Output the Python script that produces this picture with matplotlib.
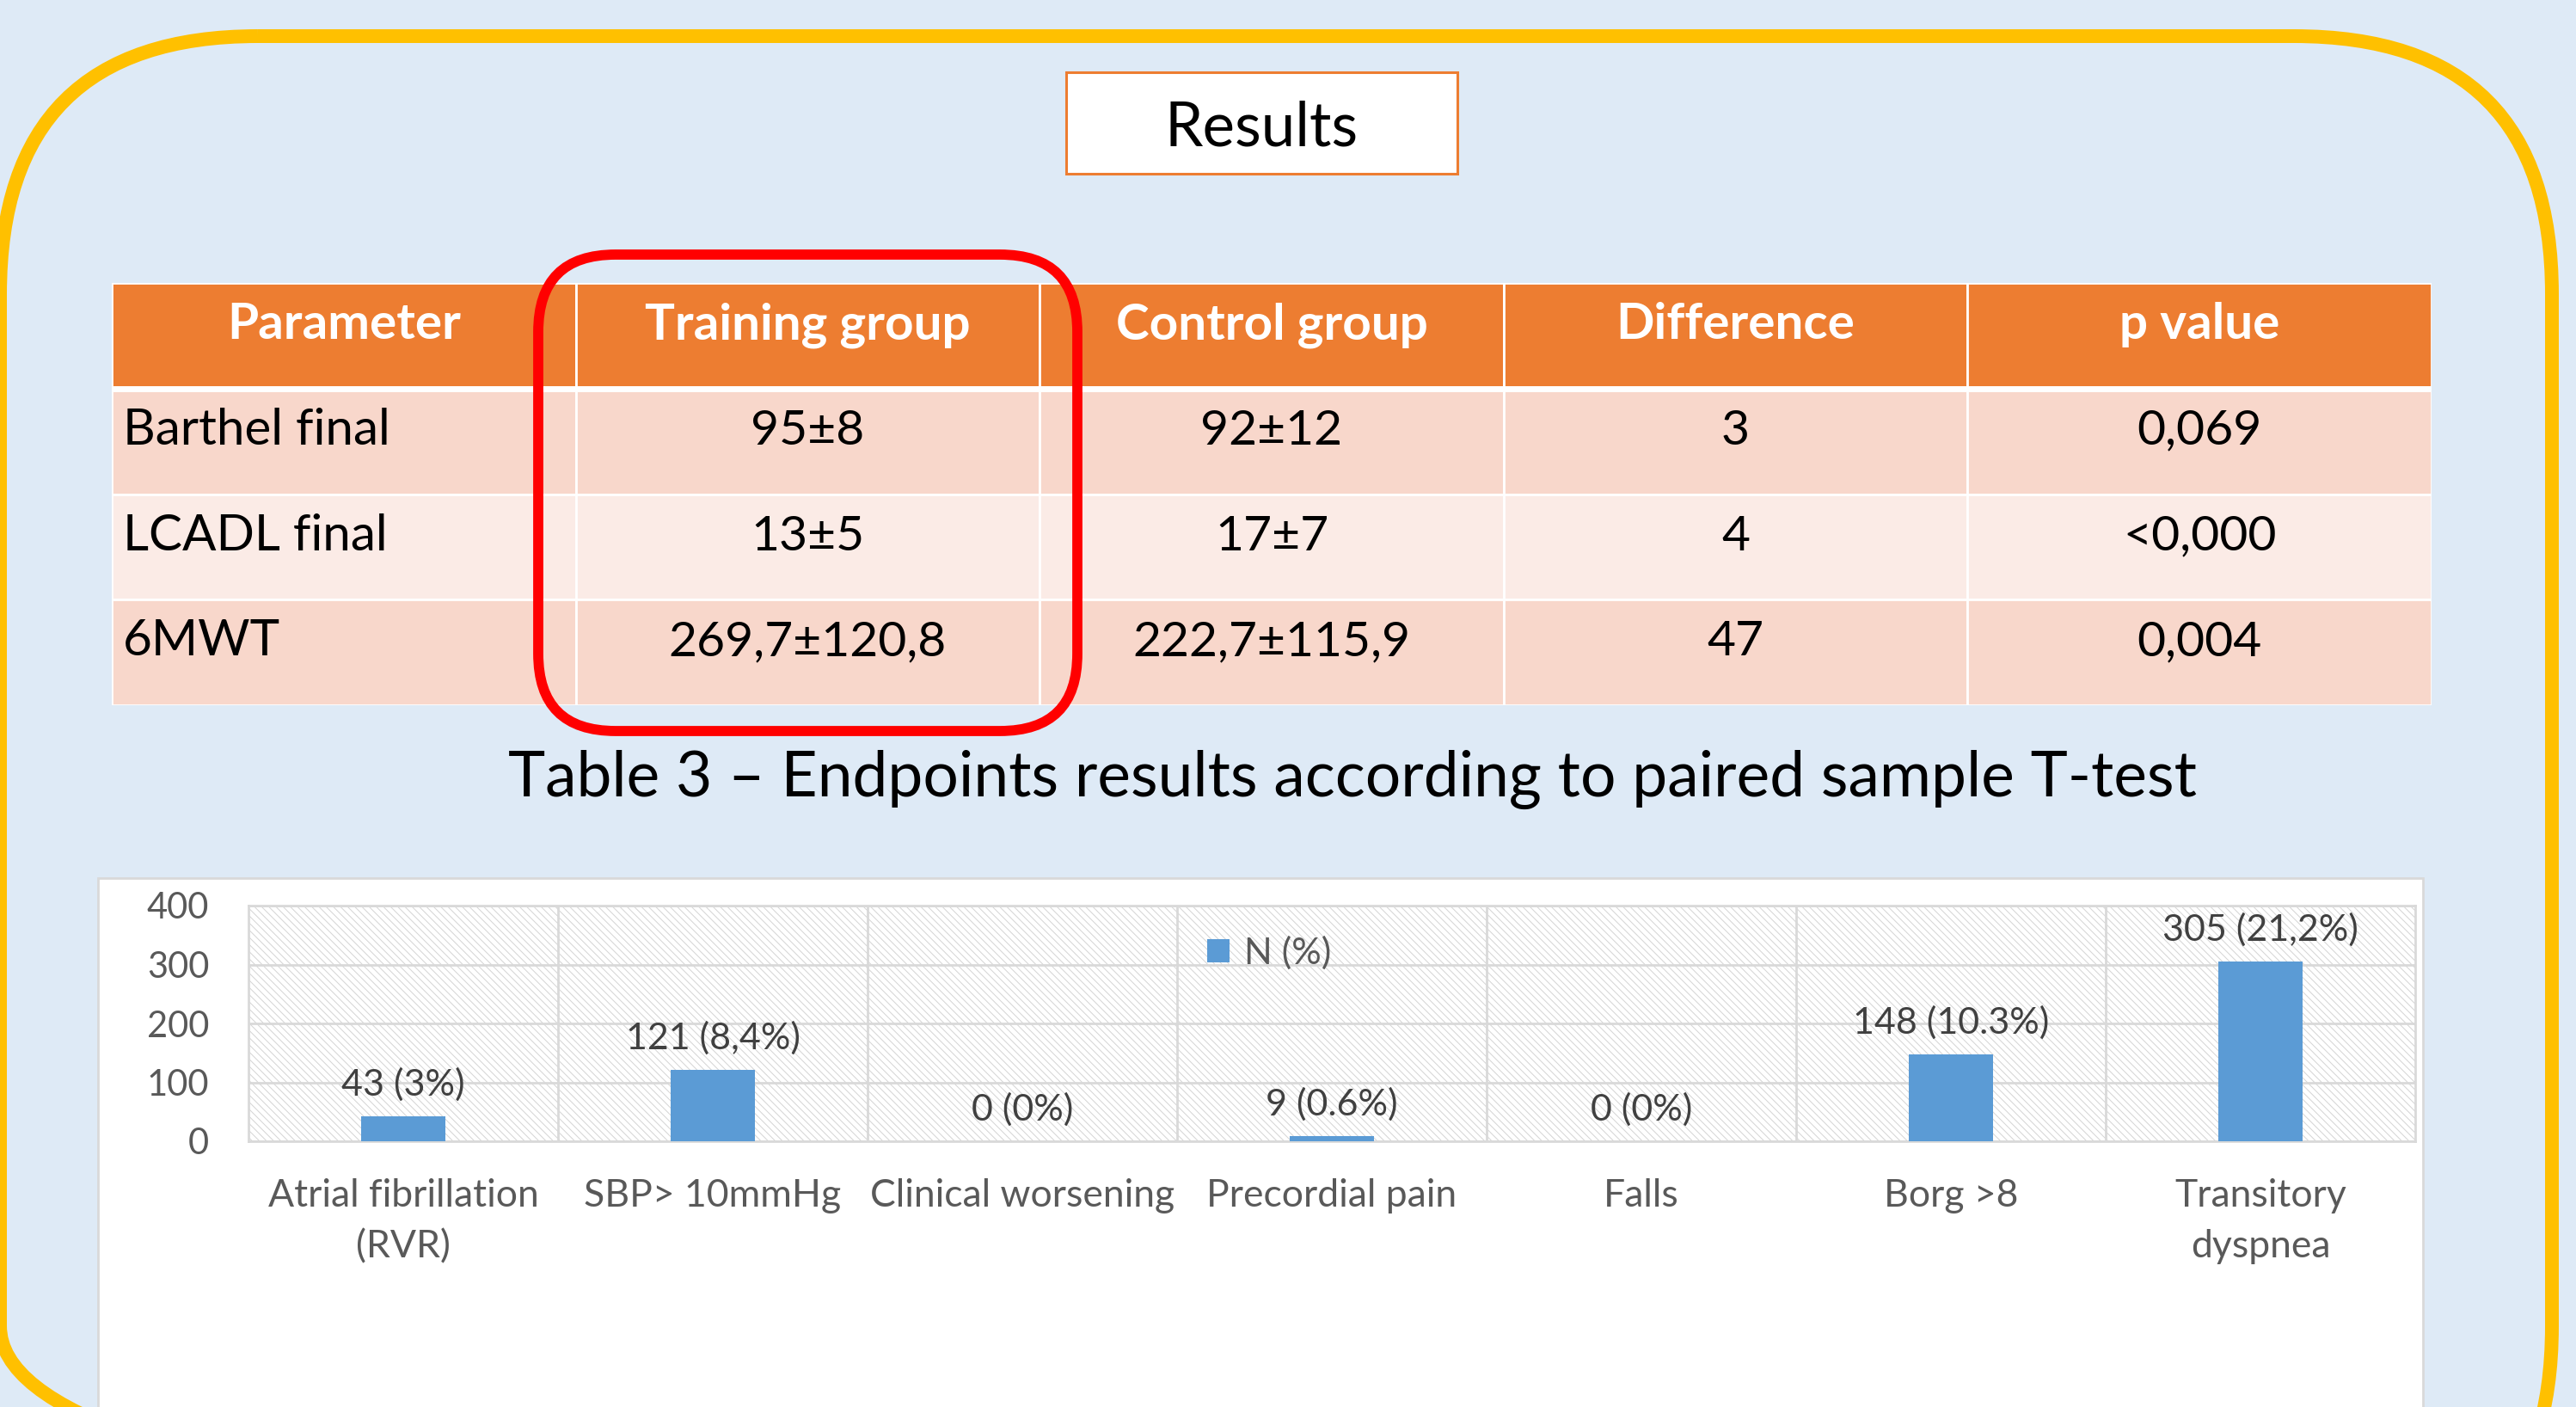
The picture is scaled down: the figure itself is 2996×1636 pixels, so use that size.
import numpy as np
import matplotlib
matplotlib.use("Agg")
import matplotlib.pyplot as plt
from matplotlib.patches import Rectangle, FancyBboxPatch

plt.rcParams["font.family"] = ["Lato", "DejaVu Sans"]
plt.rcParams["hatch.color"] = "#D4D4D4"
plt.rcParams["hatch.linewidth"] = 0.7

# Table 3 data
columns = ["Parameter", "Training group", "Control group", "Difference", "p value"]
parameters = ["Barthel final", "LCADL final", "6MWT"]
training = ["95±8", "13±5", "269,7±120,8"]
control = ["92±12", "17±7", "222,7±115,9"]
difference = ["3", "4", "47"]
p_values = ["0,069", "<0,000", "0,004"]

# adverse events chart data
events = ["Atrial fibrillation\n(RVR)", "SBP> 10mmHg", "Clinical worsening",
          "Precordial pain", "Falls", "Borg >8", "Transitory\ndyspnea"]
counts = [43, 121, 0, 9, 0, 148, 305]
count_labels = ["43 (3%)", "121 (8,4%)", "0 (0%)", "9 (0.6%)", "0 (0%)",
                "148 (10.3%)", "305 (21,2%)"]
y_ticks = [0, 100, 200, 300, 400]

W, H = 2996, 1636
fig = plt.figure(figsize=(W / 100, H / 100), dpi=100)
fig.patch.set_facecolor("#DEEAF6")


def px_axes(x0, y0, x1, y1, z):
    # box given in pixels from the top-left corner
    return fig.add_axes([x0 / W, 1 - y1 / H, (x1 - x0) / W, (y1 - y0) / H], zorder=z)


# --- table ---
rows = list(zip(parameters, training, control, difference, p_values))
tab = px_axes(130, 329, 2828, 820, 0)
tab.set_xlim(0, len(columns))
tab.set_ylim(len(rows) + 1, 0)
tab.axis("off")

for c, name in enumerate(columns):
    tab.add_patch(Rectangle((c, 0), 1, 1, fc="#ED7D31", ec="white", lw=2))
    tab.text(c + 0.5, 0.53, name, ha="center", va="baseline", color="white",
             fontsize=42, fontweight="bold")

for r, row in enumerate(rows, start=1):
    fc = "#FBEBE6" if r % 2 == 0 else "#F8D7CB"
    for c, val in enumerate(row):
        tab.add_patch(Rectangle((c, r), 1, 1, fc=fc, ec="white", lw=2))
        if c == 0:
            tab.text(c + 0.024, r + 0.53, val, ha="left", va="baseline", fontsize=42)
        else:
            tab.text(c + 0.5, r + 0.53, val, ha="center", va="baseline", fontsize=41)
tab.axhline(1, color="white", lw=5)

# --- slide decorations (pixel coordinates) ---
bg = fig.add_axes([0, 0, 1, 1], zorder=1)
bg.set_xlim(0, W)
bg.set_ylim(H, 0)
bg.axis("off")

bg.add_patch(FancyBboxPatch((0, 42), 2968, 1800, boxstyle="round,pad=0,rounding_size=300",
                            fc="none", ec="#FFC000", lw=11.5))
bg.add_patch(Rectangle((1240, 84), 455, 118, fc="white", ec="#ED7D31", lw=2.2))
bg.text(1467, 169, "Results", ha="center", va="baseline", fontsize=51)

# highlight on the training group column
bg.add_patch(FancyBboxPatch((626, 296), 627, 554, boxstyle="round,pad=0,rounding_size=90",
                            fc="none", ec="#FF0000", lw=8.5))

bg.text(1573, 926, "Table 3 – Endpoints results according to paired sample T-test",
        ha="center", va="baseline", fontsize=52.7)

bg.add_patch(Rectangle((114, 1021), 2704, 800, fc="white", ec="#D9D9D9", lw=2))

# --- bar chart ---
ax = px_axes(289, 1053, 2809, 1327, 2)
x = np.arange(len(events))
ax.set_xlim(-0.5, len(events) - 0.5)
ax.set_ylim(0, 400)
ax.add_patch(Rectangle((0, 0), 1, 1, transform=ax.transAxes, fc="white", ec="#D4D4D4",
                       lw=0, hatch="\\\\\\\\", zorder=0))

ax.bar(x, counts, width=0.27, color="#5B9BD5", label="N (%)", zorder=3)
for i, (v, lab) in enumerate(zip(counts, count_labels)):
    ax.annotate(lab, (i, v), xytext=(0, 17.5), textcoords="offset points",
                ha="center", va="baseline", fontsize=31, color="#404040")

ax.set_yticks(y_ticks)
ax.set_xticks(x)
ax.set_xticklabels(events, linespacing=1.55)
ax.set_xticks(x[:-1] + 0.5, minor=True)
ax.set_axisbelow(True)
ax.grid(axis="y", color="#D9D9D9", lw=2)
ax.grid(axis="x", which="minor", color="#D9D9D9", lw=2)
for s in ax.spines.values():
    s.set_color("#D9D9D9")
    s.set_linewidth(2)
ax.tick_params(axis="both", which="both", length=0, labelcolor="#595959")
ax.tick_params(axis="y", labelsize=30, pad=33)
ax.tick_params(axis="x", labelsize=32, pad=31)

ax.legend(loc="center", bbox_to_anchor=(0.471, 0.80), frameon=False, fontsize=31,
          handlelength=0.6, handleheight=0.6, handletextpad=0.4, labelcolor="#595959")

fig.savefig("out.png", dpi=100)
